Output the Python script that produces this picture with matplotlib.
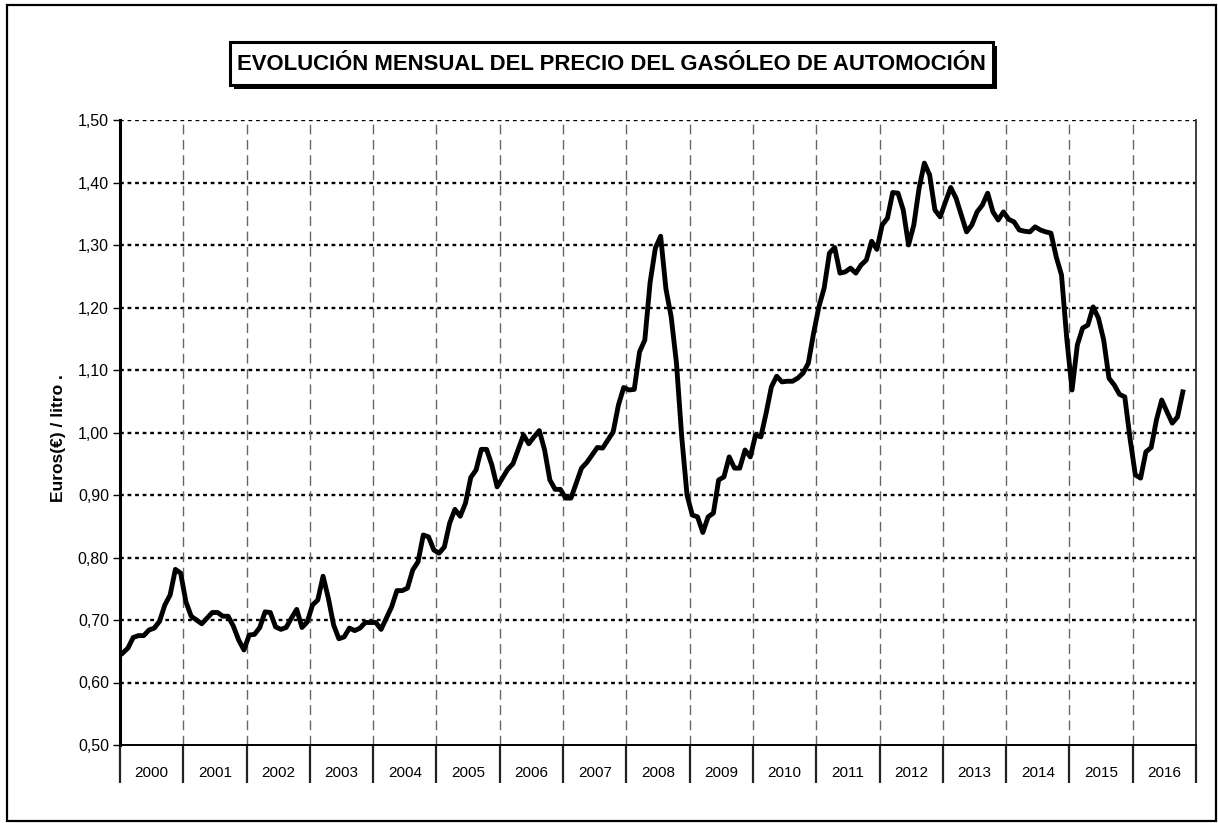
import numpy as np
import matplotlib.pyplot as plt
from matplotlib.patches import Rectangle

# ---------------------------
# Datos: precio medio mensual (euros / litro), ene 2000 - oct 2016
# ---------------------------
years = [str(y) for y in range(2000, 2017)]

p2000 = [0.647, 0.655, 0.672, 0.675, 0.675, 0.684, 0.687, 0.698, 0.724, 0.740, 0.781, 0.775]
p2001 = [0.729, 0.706, 0.700, 0.694, 0.703, 0.712, 0.712, 0.706, 0.706, 0.690, 0.668, 0.652]
p2002 = [0.676, 0.677, 0.688, 0.713, 0.712, 0.689, 0.685, 0.688, 0.703, 0.717, 0.688, 0.697]
p2003 = [0.724, 0.732, 0.770, 0.735, 0.692, 0.670, 0.673, 0.687, 0.683, 0.687, 0.696, 0.696]
p2004 = [0.696, 0.685, 0.703, 0.721, 0.747, 0.747, 0.751, 0.780, 0.793, 0.836, 0.833, 0.812]
p2005 = [0.807, 0.817, 0.855, 0.877, 0.866, 0.887, 0.928, 0.940, 0.973, 0.973, 0.948, 0.913]
p2006 = [0.927, 0.941, 0.950, 0.973, 0.996, 0.982, 0.993, 1.003, 0.972, 0.924, 0.909, 0.909]
p2007 = [0.895, 0.895, 0.919, 0.943, 0.952, 0.964, 0.976, 0.975, 0.988, 1.001, 1.044, 1.072]
p2008 = [1.068, 1.069, 1.129, 1.148, 1.240, 1.295, 1.314, 1.230, 1.185, 1.111, 0.993, 0.900]
p2009 = [0.868, 0.865, 0.840, 0.865, 0.871, 0.924, 0.929, 0.961, 0.943, 0.943, 0.972, 0.961]
p2010 = [0.996, 0.993, 1.031, 1.073, 1.090, 1.081, 1.082, 1.082, 1.087, 1.095, 1.111, 1.159]
p2011 = [1.201, 1.231, 1.287, 1.296, 1.255, 1.257, 1.263, 1.255, 1.268, 1.276, 1.306, 1.293]
p2012 = [1.332, 1.343, 1.384, 1.383, 1.356, 1.300, 1.332, 1.391, 1.431, 1.412, 1.356, 1.345]
p2013 = [1.369, 1.392, 1.375, 1.348, 1.321, 1.332, 1.353, 1.364, 1.383, 1.353, 1.340, 1.353]
p2014 = [1.341, 1.337, 1.324, 1.322, 1.321, 1.329, 1.324, 1.321, 1.319, 1.281, 1.252, 1.150]
p2015 = [1.068, 1.140, 1.167, 1.172, 1.201, 1.183, 1.148, 1.087, 1.076, 1.061, 1.057, 0.990]
p2016 = [0.932, 0.927, 0.969, 0.976, 1.020, 1.052, 1.033, 1.015, 1.025, 1.065]

precios = (p2000 + p2001 + p2002 + p2003 + p2004 + p2005 + p2006 + p2007 + p2008
           + p2009 + p2010 + p2011 + p2012 + p2013 + p2014 + p2015 + p2016)

yticks = [0.5, 0.6, 0.7, 0.8, 0.9, 1.0, 1.1, 1.2, 1.3, 1.4, 1.5]

# ---------------------------
# Figura
# ---------------------------
plt.rcParams['font.family'] = ['Liberation Sans', 'DejaVu Sans']

W, H = 1218, 823
fig = plt.figure(figsize=(W / 100, H / 100), dpi=100)

# marco exterior
fig.patches.append(Rectangle((7 / W, 1 - 821 / H), (1216 - 7) / W, (821 - 5) / H,
                             transform=fig.transFigure, fill=False, ec='black', lw=1.6))

# caja del título con sombra
bx0, bx1, by0, by1 = 230, 993, 42, 85
fig.patches.append(Rectangle(((bx0 + 4) / W, 1 - (by1 + 4) / H), (bx1 - bx0) / W, (by1 - by0) / H,
                             transform=fig.transFigure, fc='black', ec='black', lw=0))
fig.patches.append(Rectangle((bx0 / W, 1 - by1 / H), (bx1 - bx0) / W, (by1 - by0) / H,
                             transform=fig.transFigure, fc='white', ec='black', lw=2.2))
fig.text((bx0 + bx1) / 2 / W, 1 - (by0 + by1 + 2) / 2 / H,
         "EVOLUCIÓN MENSUAL DEL PRECIO DEL GASÓLEO DE AUTOMOCIÓN",
         ha='center', va='center', fontsize=15.9, fontweight='bold')

ax = fig.add_axes([120 / W, 1 - 745 / H, (1196 - 120) / W, (745 - 120) / H])

x = np.arange(len(precios)) + 0.5
ax.plot(x, precios, color='black', lw=3.5, solid_joinstyle='round', zorder=3)

n_years = len(years)
ax.set_xlim(0, 12 * n_years)
ax.set_ylim(0.5, 1.5)

# eje x: separadores de año y etiquetas centradas
ax.set_xticks(np.arange(0, 12 * n_years + 1, 12))
ax.set_xticks(np.arange(6, 12 * n_years, 12), minor=True)
ax.set_xticklabels([])
ax.set_xticklabels(years, minor=True, fontsize=11)
ax.tick_params(axis='x', which='major', direction='out', length=27, width=1.6, color='#222222')
ax.tick_params(axis='x', which='minor', length=0, pad=15)

# eje y
ax.set_yticks(yticks)
ax.set_yticklabels([f"{v:.2f}".replace('.', ',') for v in yticks], fontsize=11.5)
ax.tick_params(axis='y', direction='out', length=5, width=1, pad=3)

# rejilla
for v in yticks[1:]:
    ax.axhline(v, color='black', lw=1.7, ls=(0, (1.6, 1.6)), zorder=1)
ax.grid(axis='x', which='major', color='#666666', lw=1, ls=(0, (7, 4)), zorder=1)

ax.spines['top'].set_visible(False)
ax.spines['left'].set_linewidth(2.2)
ax.spines['bottom'].set_linewidth(1.4)
ax.spines['right'].set_color('#333333')
ax.spines['right'].set_linewidth(1.3)

fig.text(58 / W, 1 - 438 / H, "Euros(€) / litro .", rotation=90,
         ha='center', va='center', fontsize=12.5, fontweight='bold')

fig.savefig("out.png", dpi=100)
